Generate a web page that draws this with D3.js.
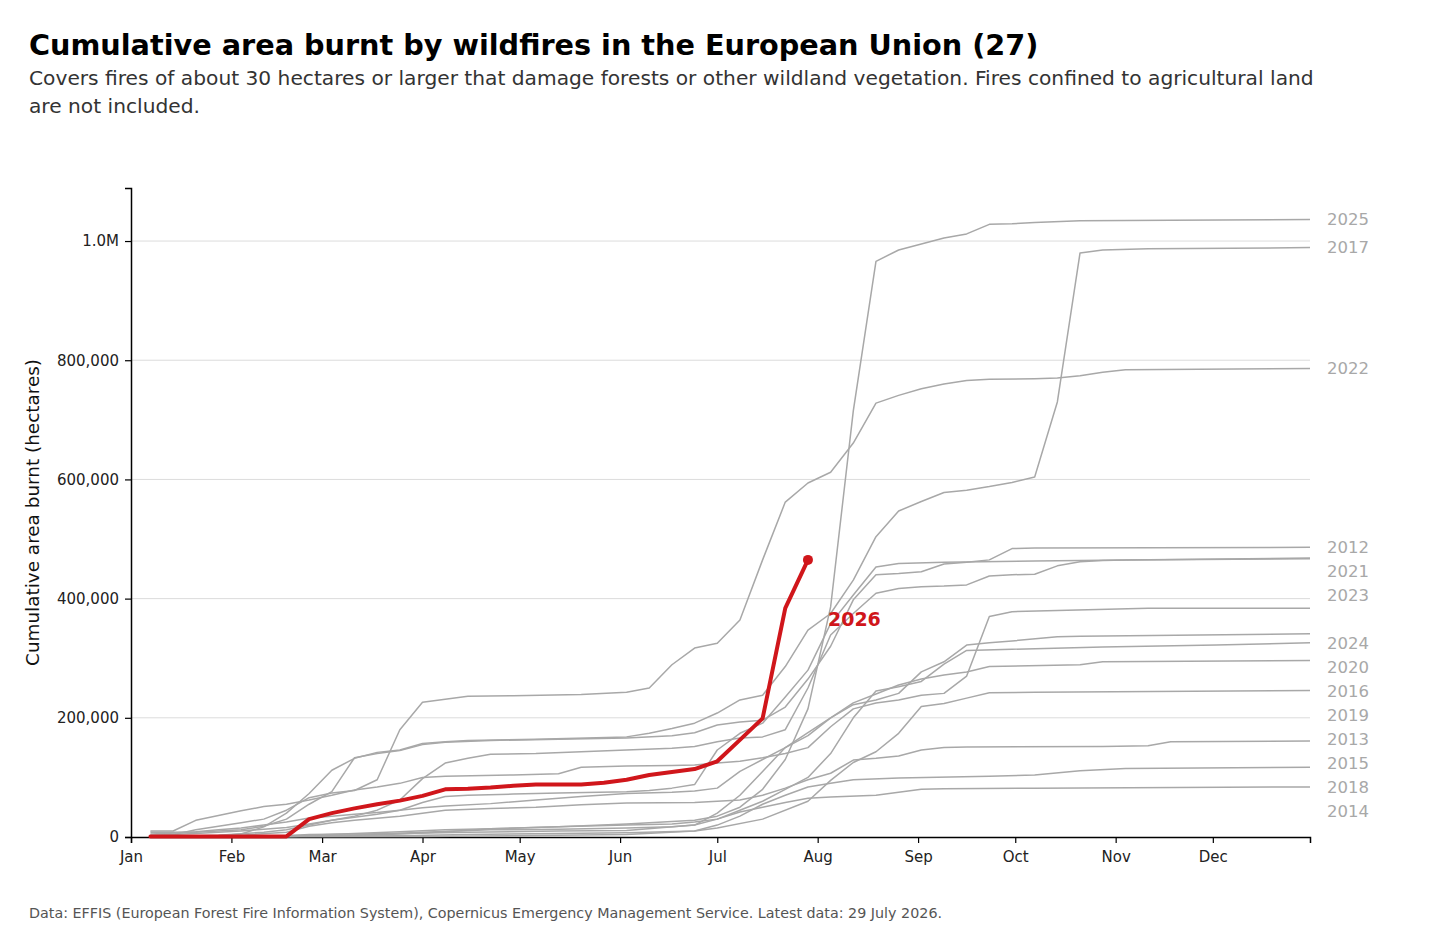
<!DOCTYPE html>
<html>
<head>
<meta charset="utf-8">
<script src="https://cdn.jsdelivr.net/npm/d3@7"></script>
<style>
  body { margin: 0; background: #fff; }
  svg { font-family: "DejaVu Sans", sans-serif; display: block; }
</style>
</head>
<body>
<div id="chart"></div>
<script>
// Cumulative burnt area, thousand hectares at weekly-ish dates
const fires2012 = [["01-07",5],["01-21",8],["02-04",12],["02-11",18],["02-18",30],["02-25",55],["03-04",76],["03-11",133],["03-18",140],["03-25",145],["04-01",155],["04-08",159],["04-22",162],["05-13",164],["06-03",166],["06-17",170],["06-24",175],["07-01",188],["07-08",193],["07-15",196],["07-22",218],["07-29",265],["08-05",320],["08-12",398],["08-19",440],["08-26",442],["09-02",445],["09-09",458],["09-16",461],["09-23",465],["09-30",484],["10-07",485],["12-31",486]];
const fires2013 = [["01-07",0],["03-25",2],["04-15",4],["05-13",6],["06-03",7],["06-24",10],["07-01",15],["07-15",30],["07-29",60],["08-05",95],["08-12",125],["08-19",143],["08-26",174],["09-02",219],["09-09",224],["09-16",233],["09-23",242],["10-07",243],["12-31",246]];
const fires2014 = [["01-07",0],["03-04",2],["03-25",5],["04-08",9],["04-22",14],["05-13",17],["06-03",20],["06-17",22],["06-24",25],["07-01",30],["07-08",42],["07-15",50],["07-22",58],["07-29",65],["08-05",67],["08-19",70],["08-26",75],["09-02",80],["09-09",81],["10-07",82],["12-31",84]];
const fires2015 = [["01-07",0],["02-04",3],["02-18",8],["02-25",18],["03-04",24],["03-11",28],["03-25",35],["04-01",40],["04-08",45],["04-22",48],["05-06",50],["05-20",54],["06-03",57],["06-24",58],["07-01",60],["07-08",62],["07-15",70],["07-22",82],["07-29",96],["08-05",107],["08-12",129],["08-19",132],["08-26",136],["09-02",146],["09-09",150],["09-16",151],["10-28",152],["11-11",153],["11-18",160],["12-31",161]];
const fires2016 = [["01-07",0],["02-18",1],["03-11",3],["04-01",8],["04-22",12],["05-13",13],["06-03",15],["06-17",17],["06-24",20],["07-01",30],["07-08",45],["07-15",60],["07-22",80],["07-29",100],["08-05",140],["08-12",200],["08-19",245],["08-26",252],["09-02",261],["09-09",290],["09-16",313],["09-30",315],["10-28",319],["12-02",322],["12-31",326]];
const fires2017 = [["01-07",0],["01-28",2],["02-04",5],["02-11",17],["02-18",40],["02-25",73],["03-04",112],["03-11",132],["03-18",142],["03-25",146],["04-01",157],["04-08",160],["04-15",162],["05-06",164],["06-03",168],["06-10",174],["06-17",182],["06-24",191],["07-01",208],["07-08",230],["07-15",238],["07-22",286],["07-29",347],["08-05",375],["08-12",431],["08-19",504],["08-26",547],["09-02",563],["09-09",578],["09-16",582],["09-23",588],["09-30",595],["10-07",604],["10-14",730],["10-21",980],["10-28",985],["11-11",987],["12-31",989]];
const fires2018 = [["01-07",0],["04-01",1],["05-13",3],["06-03",4],["06-24",10],["07-01",20],["07-08",35],["07-15",55],["07-22",70],["07-29",84],["08-05",90],["08-12",96],["08-26",99],["09-23",102],["10-07",104],["10-21",111],["11-04",115],["12-31",117]];
const fires2019 = [["01-07",1],["02-18",2],["02-25",4],["03-25",6],["04-15",8],["05-13",10],["06-03",11],["06-24",20],["07-01",40],["07-08",70],["07-15",110],["07-22",150],["07-29",175],["08-05",200],["08-12",225],["08-19",240],["08-26",255],["09-02",265],["09-09",272],["09-16",277],["09-23",286],["10-21",289],["10-28",294],["12-31",296]];
const fires2020 = [["01-07",8],["01-14",8],["01-21",9],["01-28",12],["02-04",15],["02-11",20],["02-18",25],["02-25",32],["03-04",35],["03-11",38],["03-18",41],["03-25",45],["04-01",49],["04-08",52],["04-22",56],["05-06",62],["05-20",68],["06-03",73],["06-17",75],["06-24",77],["07-01",82],["07-08",110],["07-15",130],["07-22",150],["07-29",170],["08-05",200],["08-12",222],["08-19",230],["08-26",241],["09-02",277],["09-09",294],["09-16",322],["09-23",326],["09-30",329],["10-14",336],["10-21",337],["12-31",341]];
const fires2021 = [["01-07",3],["01-21",6],["02-04",10],["02-18",16],["02-25",22],["03-04",28],["03-11",33],["03-18",38],["03-25",45],["04-01",58],["04-08",68],["04-15",70],["04-29",72],["05-13",74],["06-03",76],["06-10",78],["06-17",82],["06-24",88],["07-01",146],["07-08",174],["07-15",191],["07-22",235],["07-29",280],["08-05",358],["08-12",406],["08-19",453],["08-26",459],["09-09",461],["10-07",463],["11-04",465],["12-31",468]];
const fires2022 = [["01-07",2],["01-14",4],["01-21",12],["01-28",18],["02-04",24],["02-11",30],["02-18",45],["02-25",66],["03-04",74],["03-11",78],["03-18",96],["03-25",180],["04-01",226],["04-08",231],["04-15",236],["04-29",237],["05-20",239],["06-03",243],["06-10",250],["06-17",289],["06-24",317],["07-01",325],["07-08",364],["07-15",465],["07-22",562],["07-29",594],["08-05",612],["08-12",661],["08-19",728],["08-26",741],["09-02",752],["09-09",760],["09-16",766],["09-23",768],["10-07",769],["10-14",770],["10-21",774],["10-28",780],["11-04",784],["12-31",786]];
const fires2023 = [["01-07",0],["01-28",3],["02-11",8],["02-18",12],["02-25",20],["03-04",28],["03-11",35],["03-18",45],["03-25",62],["04-01",98],["04-08",124],["04-15",132],["04-22",139],["05-06",140],["05-20",143],["06-03",146],["06-17",149],["06-24",152],["07-01",160],["07-08",166],["07-15",168],["07-22",180],["07-29",250],["08-05",339],["08-12",375],["08-19",409],["08-26",417],["09-02",420],["09-09",421],["09-16",423],["09-23",438],["09-30",440],["10-07",441],["10-14",455],["10-21",462],["10-28",464],["11-04",465],["12-31",467]];
const fires2024 = [["01-07",10],["01-14",10],["01-21",28],["01-28",36],["02-04",44],["02-11",51],["02-18",55],["02-25",62],["03-04",70],["03-11",79],["03-18",84],["03-25",90],["04-01",100],["04-08",102],["04-29",104],["05-13",106],["05-20",117],["06-03",119],["06-17",120],["06-24",121],["07-01",124],["07-08",127],["07-15",133],["07-22",140],["07-29",150],["08-05",185],["08-12",215],["08-19",225],["08-26",230],["09-02",238],["09-09",241],["09-16",270],["09-23",370],["09-30",378],["10-14",380],["11-11",384],["12-31",384]];
const fires2025 = [["01-07",0],["02-04",1],["02-25",3],["03-11",6],["03-25",9],["04-08",12],["04-22",14],["05-13",17],["06-03",22],["06-17",26],["06-24",28],["07-01",35],["07-08",50],["07-15",80],["07-22",130],["07-29",215],["08-05",386],["08-12",715],["08-19",966],["08-26",985],["09-02",995],["09-09",1005],["09-16",1012],["09-23",1028],["09-30",1029],["10-07",1031],["10-21",1034],["11-18",1035],["12-31",1036]];
const fires2026 = [["01-07",1],["01-14",1],["01-21",1],["01-28",1],["02-04",1],["02-11",1],["02-18",1],["02-25",30],["03-04",40],["03-11",48],["03-18",55],["03-25",61],["04-01",69],["04-08",80],["04-15",81],["04-22",83],["04-29",86],["05-06",88],["05-13",88],["05-20",88],["05-27",91],["06-03",96],["06-10",104],["06-17",109],["06-24",114],["07-01",127],["07-08",163],["07-15",199],["07-22",384],["07-29",465]];

const pastYears = [
  ["2012", fires2012], ["2013", fires2013], ["2014", fires2014], ["2015", fires2015],
  ["2016", fires2016], ["2017", fires2017], ["2018", fires2018], ["2019", fires2019],
  ["2020", fires2020], ["2021", fires2021], ["2022", fires2022], ["2023", fires2023],
  ["2024", fires2024], ["2025", fires2025]
];
const currentYear = ["2026", fires2026];

const yTicks = [0, 200000, 400000, 600000, 800000, 1000000];
const titleText = "Cumulative area burnt by wildfires in the European Union (27)";
const subtitleLines = [
  "Covers fires of about 30 hectares or larger that damage forests or other wildland vegetation. Fires confined to agricultural land",
  "are not included."
];
const yLabel = "Cumulative area burnt (hectares)";
const sourceText = "Data: EFFIS (European Forest Fire Information System), Copernicus Emergency Management Service. Latest data: 29 July 2026.";

const width = 1456, height = 937;
const margin = { top: 188, right: 146, bottom: 100, left: 131 };
const grey = "#a8a8a8", red = "#d0161b";

const parseDay = d3.timeParse("%Y-%m-%d");
const toPoints = rows => rows.map(([md, v]) => ({ date: parseDay("2026-" + md), value: v * 1000 }));

const svg = d3.select("#chart").append("svg")
  .attr("width", width)
  .attr("height", height);

svg.append("rect").attr("width", width).attr("height", height).attr("fill", "#fff");

// Title block
svg.append("text")
  .attr("x", 29).attr("y", 55)
  .style("font-size", "28.7px").style("font-weight", "bold").attr("fill", "#000")
  .text(titleText);

svg.append("text")
  .attr("x", 29).attr("y", 85)
  .style("font-size", "20.2px").attr("fill", "#333")
  .selectAll("tspan")
  .data(subtitleLines)
  .enter().append("tspan")
  .attr("x", 29)
  .attr("dy", (d, i) => i === 0 ? 0 : 28)
  .text(d => d);

svg.append("text")
  .attr("x", 29).attr("y", 918)
  .style("font-size", "14.3px").attr("fill", "#555")
  .text(sourceText);

// Scales
const x = d3.scaleTime()
  .domain([parseDay("2026-01-01"), parseDay("2026-12-31")])
  .range([margin.left, width - margin.right]);

const y = d3.scaleLinear()
  .domain([0, 1089000])
  .range([height - margin.bottom, margin.top]);

// Grid lines
svg.append("g")
  .selectAll("line")
  .data(yTicks.filter(d => d > 0))
  .enter().append("line")
  .attr("x1", margin.left).attr("x2", width - margin.right)
  .attr("y1", d => y(d)).attr("y2", d => y(d))
  .attr("stroke", "#dcdcdc").attr("stroke-width", 1);

// Axes
const xAxis = svg.append("g")
  .attr("transform", `translate(0,${height - margin.bottom})`)
  .call(d3.axisBottom(x)
    .ticks(d3.timeMonth.every(1))
    .tickFormat(d3.timeFormat("%b"))
    .tickSizeOuter(0)
    .tickSize(6));
xAxis.select(".domain").attr("stroke", "#000").attr("stroke-width", 1.5);
xAxis.selectAll(".tick line").attr("stroke", "#000").attr("stroke-width", 1.2);
xAxis.selectAll(".tick text")
  .attr("dy", "1.05em")
  .style("font-size", "15px").style("font-family", "DejaVu Sans").attr("fill", "#222");

const yAxis = svg.append("g")
  .attr("transform", `translate(${margin.left},0)`)
  .call(d3.axisLeft(y)
    .tickValues(yTicks)
    .tickFormat(d => d === 1000000 ? "1.0M" : d3.format(",")(d))
    .tickSizeOuter(0)
    .tickSize(6));
yAxis.select(".domain").attr("stroke", "#000").attr("stroke-width", 1.5);
yAxis.selectAll(".tick line").attr("stroke", "#000").attr("stroke-width", 1.2);
yAxis.selectAll(".tick text")
  .attr("x", -12)
  .style("font-size", "15px").style("font-family", "DejaVu Sans").attr("fill", "#222");

svg.append("text")
  .attr("transform", `translate(39,${(margin.top + height - margin.bottom) / 2}) rotate(-90)`)
  .attr("text-anchor", "middle")
  .style("font-size", "18.4px").attr("fill", "#111")
  .text(yLabel);

// Lines
const line = d3.line()
  .x(d => x(d.date))
  .y(d => y(d.value));

svg.append("g")
  .selectAll("path")
  .data(pastYears)
  .enter().append("path")
  .attr("d", d => line(toPoints(d[1])))
  .attr("fill", "none")
  .attr("stroke", grey)
  .attr("stroke-width", 1.5)
  .attr("stroke-linejoin", "round");

const current = toPoints(currentYear[1]);
const last = current[current.length - 1];

svg.append("path")
  .attr("d", line(current))
  .attr("fill", "none")
  .attr("stroke", red)
  .attr("stroke-width", 4)
  .attr("stroke-linejoin", "round")
  .attr("stroke-linecap", "round");

svg.append("circle")
  .attr("cx", x(last.date)).attr("cy", y(last.value))
  .attr("r", 5).attr("fill", red);

svg.append("text")
  .attr("x", x(last.date) + 20)
  .attr("y", y(last.value) + 66)
  .style("font-size", "19px").style("font-weight", "bold").attr("fill", red)
  .text(currentYear[0]);

// Right-hand year labels, dodged downwards (current year takes a slot but is labelled in the plot)
const ends = pastYears.concat([currentYear]).map(([yr, rows]) => ({
  year: yr,
  value: rows[rows.length - 1][1] * 1000,
  hidden: yr === currentYear[0]
})).sort((a, b) => b.value - a.value);

let prevY = -Infinity;
ends.forEach(d => {
  d.ly = Math.max(y(d.value), prevY + 24);
  prevY = d.ly;
});

svg.append("g")
  .selectAll("text")
  .data(ends.filter(d => !d.hidden))
  .enter().append("text")
  .attr("x", width - margin.right + 17)
  .attr("y", d => d.ly)
  .attr("dy", "0.35em")
  .style("font-size", "16.5px").attr("fill", grey)
  .text(d => d.year);
</script>
</body>
</html>
